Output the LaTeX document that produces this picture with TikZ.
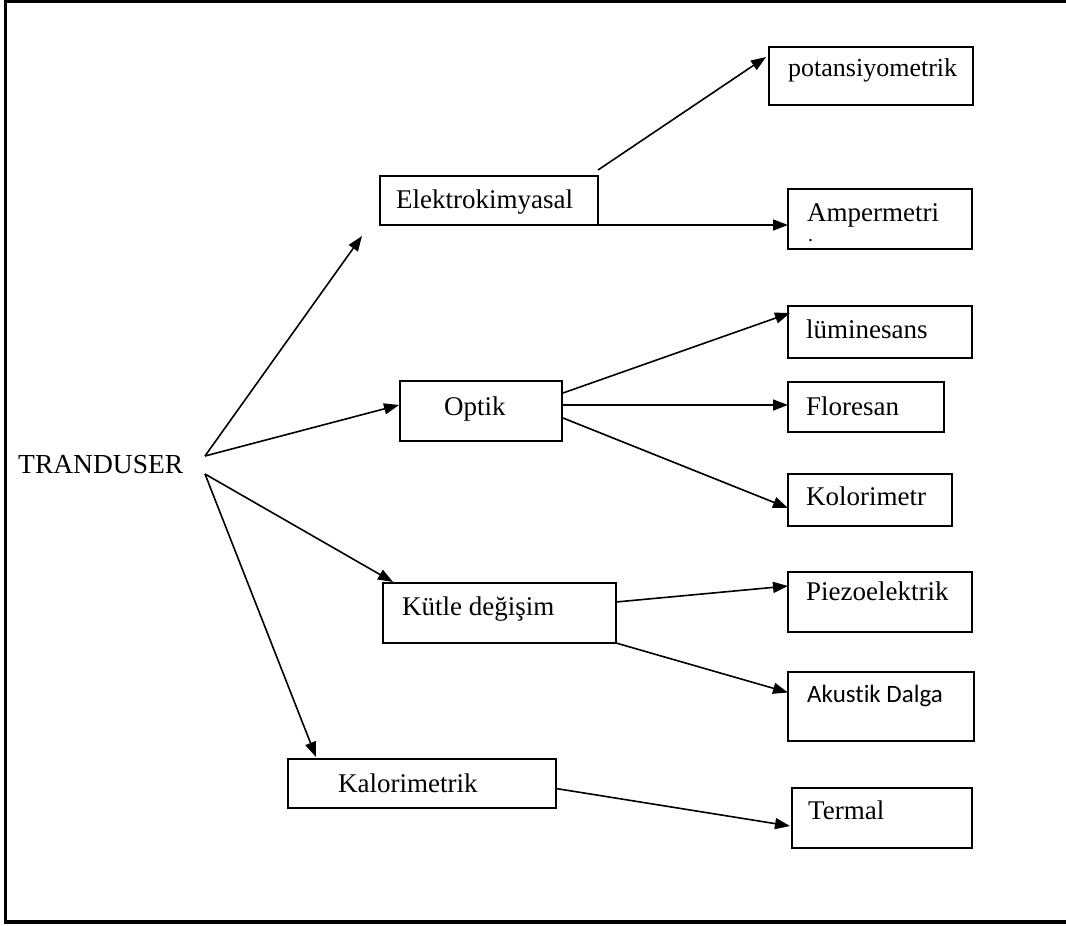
\documentclass[tikz,border=0pt]{standalone}
\usepackage{fontspec}
\setmainfont{Liberation Serif}
\newfontfamily\calfont[Ligatures=NoCommon]{Carlito}
\usetikzlibrary{arrows.meta,calc}
\tikzset{
  box/.style={draw=black, line width=1.6pt, rectangle, inner sep=0pt, outer sep=0pt},
  lbl/.style={anchor=base west, inner sep=0pt, font=\fontsize{27}{31}\selectfont},
  conn/.style={line width=1.6pt, -{Triangle[length=15pt,width=11pt]}},
  frame/.style={line width=3.5pt}
}
\begin{document}
\begin{tikzpicture}[x=1pt,y=-1pt]
\useasboundingbox (0,0) rectangle (1066,926);
\draw[frame] (1066,1.5) -- (5.3,1.5) -- (5.3,922) -- (1066,922);
% boxes
\node[box, minimum width=218pt, minimum height=49pt] (elk) at (489,200.5) {};
\node[box, minimum width=204pt, minimum height=58pt] (pot) at (871,76) {};
\node[box, minimum width=184pt, minimum height=60pt] (amp) at (880,219) {};
\node[box, minimum width=184pt, minimum height=52pt] (lum) at (880,332) {};
\node[box, minimum width=156pt, minimum height=50pt] (flo) at (866,407) {};
\node[box, minimum width=164pt, minimum height=52pt] (kol) at (870,500) {};
\node[box, minimum width=162pt, minimum height=60pt] (opt) at (481,411) {};
\node[box, minimum width=233pt, minimum height=60pt] (kut) at (499.5,613) {};
\node[box, minimum width=184pt, minimum height=60pt] (pie) at (880,602) {};
\node[box, minimum width=186pt, minimum height=69pt] (aku) at (881,706.5) {};
\node[box, minimum width=268pt, minimum height=49pt] (kal) at (422,783.5) {};
\node[box, minimum width=180pt, minimum height=60pt] (ter) at (882,818) {};
% labels
\node[lbl, font=\fontsize{27.5}{31}\selectfont] (trT) at (18,473) {TRANDUSER};
\node[lbl] (elkT) at (396,208) {Elektrokimyasal};
\node[lbl, font=\fontsize{26}{30}\selectfont] (potT) at (788,76) {potansiyometrik};
\node[lbl] (ampT) at (807,221) {Ampermetri};
\node[lbl, font=\fontsize{20}{22}\selectfont] (ampD) at (808,241) {.};
\node[lbl] (lumT) at (806,338) {lüminesans};
\node[lbl] (floT) at (806,415) {Floresan};
\node[lbl] (kolT) at (806,505) {Kolorimetr};
\node[lbl] (optT) at (444,415) {Optik};
\node[lbl] (kutT) at (402,615) {Kütle değişim};
\node[lbl] (pieT) at (806,600) {Piezoelektrik};
\node[lbl, font=\calfont\fontsize{25}{28}\selectfont] (akuT) at (807,702) {Akustik Dalga};
\node[lbl] (kalT) at (338,792) {Kalorimetrik};
\node[lbl] (terT) at (808,819) {Termal};
% connector ends
\coordinate (trA) at (205,456);
\coordinate (trB) at (205,474);
\coordinate (elkIn) at ($(elk.south west)+(-18,11)$);
\coordinate (optF) at ($(opt.east)+(1,-6)$);
% connectors
\draw[conn] (trA) -- (elkIn);
\draw[conn] (trA) -- ($(opt.west)+(-1,-6)$);
\draw[conn] (trB) -- ($(kut.north west)+(10,-1)$);
\draw[conn] (trB) -- ($(kal.north west)+(28,-2)$);
\draw[conn] ($(elk.north east)+(0,-6)$) -- ($(pot.west)+(-3,-19)$);
\draw[conn] (elk.south east) -- (elk.south east -| amp.west);
\draw[conn] ($(opt.east)+(1,-18)$) -- ($(lum.north west)+(2,7)$);
\draw[conn] (optF) -- (optF -| flo.west);
\draw[conn] ($(opt.east)+(1,7)$) -- ($(kol.west)+(0,8)$);
\draw[conn] ($(kut.east)+(0,-11)$) -- ($(pie.west)+(0,-16)$);
\draw[conn] (kut.south east) -- ($(aku.west)+(0,-14)$);
\draw[conn] ($(kal.east)+(0,5)$) -- ($(ter.west)+(-2,8)$);
\end{tikzpicture}
\end{document}
